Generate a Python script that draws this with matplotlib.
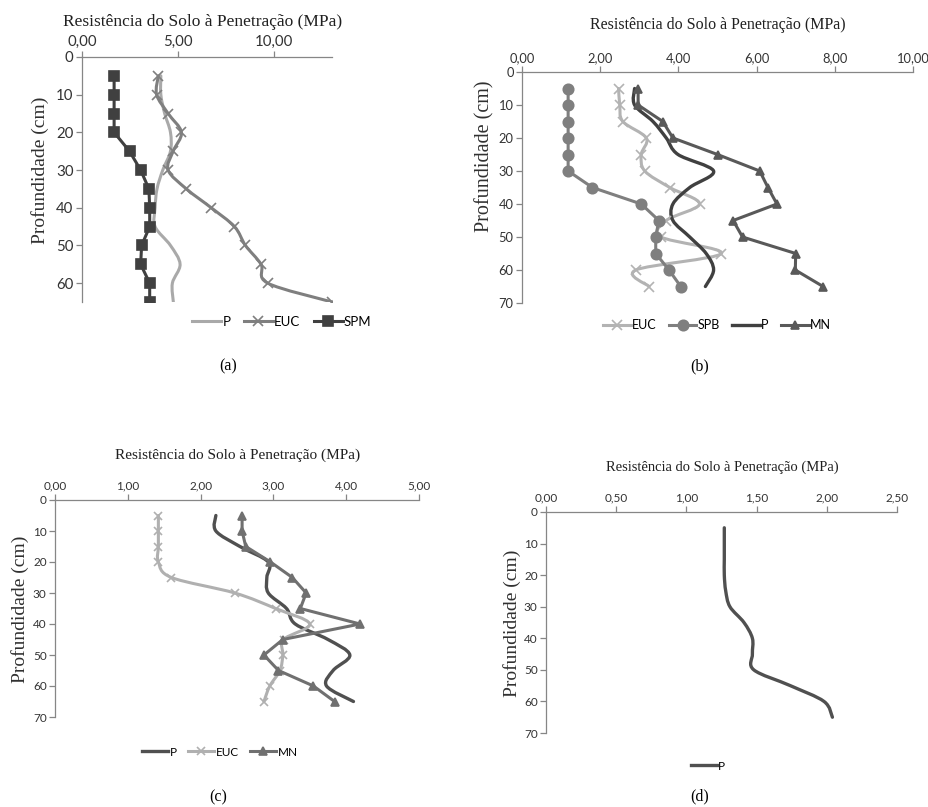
import numpy as np
import matplotlib
matplotlib.use('Agg')
from matplotlib import pyplot as plt
from matplotlib.path import Path
from matplotlib.patches import PathPatch
from matplotlib.lines import Line2D
from matplotlib.ticker import FuncFormatter

depth = [5, 10, 15, 20, 25, 30, 35, 40, 45, 50, 55, 60, 65]

# (a)
a_p = [4.1, 4.1, 4.3, 4.6, 4.6, 4.2, 3.9, 3.8, 3.8, 4.6, 5.1, 4.7, 4.75]
a_euc = [3.97, 3.88, 4.48, 5.17, 4.74, 4.48, 5.43, 6.72, 7.93, 8.5, 9.31, 9.66, 13.0]
a_spm = [1.67, 1.67, 1.67, 1.67, 2.47, 3.05, 3.48, 3.52, 3.52, 3.10, 3.05, 3.52, 3.52]

# (b)
b_euc = [2.47, 2.50, 2.58, 3.18, 3.05, 3.14, 3.78, 4.54, 3.69, 3.56, 5.10, 2.91, 3.25]
b_spb = [1.18, 1.18, 1.18, 1.18, 1.18, 1.18, 1.80, 3.05, 3.50, 3.42, 3.42, 3.76, 4.06]
b_p = [2.88, 2.88, 3.35, 3.69, 3.99, 4.90, 4.29, 3.86, 3.86, 4.29, 4.71, 4.90, 4.69]
b_mn = [2.97, 2.97, 3.60, 3.86, 5.00, 6.08, 6.29, 6.52, 5.40, 5.64, 7.00, 6.99, 7.70]

# (c)
c_p = [2.21, 2.21, 2.54, 2.93, 2.91, 2.93, 3.18, 3.30, 3.75, 4.05, 3.82, 3.73, 4.10]
c_euc = [1.42, 1.42, 1.42, 1.42, 1.60, 2.47, 3.03, 3.50, 3.14, 3.13, 3.09, 2.95, 2.87]
c_mn = [2.57, 2.57, 2.62, 2.96, 3.26, 3.45, 3.37, 4.19, 3.13, 2.87, 3.07, 3.55, 3.84]

# (d)
d_p = [1.27, 1.27, 1.27, 1.27, 1.28, 1.31, 1.41, 1.47, 1.47, 1.48, 1.74, 1.98, 2.04]

W, H = 929, 807
SERIF = 'Liberation Serif'
SANS = 'Lato'


def smooth_path(x, y):
    # bezier segments (excel-style smoothed line)
    pts = np.column_stack([x, y]).astype(float)
    n = len(pts)
    verts = [pts[0]]
    codes = [Path.MOVETO]
    for i in range(n - 1):
        p0 = pts[max(i - 1, 0)]
        p1 = pts[i]
        p2 = pts[i + 1]
        p3 = pts[min(i + 2, n - 1)]
        verts += [p1 + (p2 - p0) / 6, p2 - (p3 - p1) / 6, p2]
        codes += [Path.CURVE4] * 3
    return Path(verts, codes)


def add_series(ax, x, y, color, lw, label, marker=None, ms=6, smooth=False, mew=1.2):
    if smooth:
        ax.add_patch(PathPatch(smooth_path(x, y), fill=False, edgecolor=color,
                               lw=lw, capstyle='round', joinstyle='round'))
        if marker:
            ax.plot(x, y, linestyle='none', marker=marker, ms=ms, color=color, mew=mew)
    else:
        ax.plot(x, y, color=color, lw=lw, marker=marker, ms=ms, mew=mew)
    return Line2D([], [], color=color, lw=lw, marker=marker, ms=ms, mew=mew, label=label)


def make_axes(box, xmax, xstep, ymax, ytop, fs):
    l, r, t, b = box
    ax = plt.gcf().add_axes([l / W, 1 - b / H, (r - l) / W, (b - t) / H])
    ax.set_xlim(0, xmax)
    ax.set_ylim(ymax, 0)
    ax.xaxis.tick_top()
    ax.set_xticks(np.arange(0, xmax + 1e-9, xstep))
    ax.set_yticks(np.arange(0, ytop + 1, 10))
    ax.xaxis.set_major_formatter(FuncFormatter(lambda v, p: ('%.2f' % v).replace('.', ',')))
    for s in ['right', 'bottom']:
        ax.spines[s].set_visible(False)
    for s in ['left', 'top']:
        ax.spines[s].set_color('#868686')
        ax.spines[s].set_linewidth(0.9)
    ax.tick_params(axis='both', direction='out', length=4, width=0.9, color='#868686',
                   labelsize=fs, labelcolor='#333333', pad=2)
    for lab in ax.get_xticklabels() + ax.get_yticklabels():
        lab.set_family(SANS)
    ax.patch.set_alpha(0)
    return ax


def texts(title_xy, ylab_xy, cap_xy, cap, tfs, yfs):
    fig.text(title_xy[0] / W, 1 - title_xy[1] / H, 'Resistência do Solo à Penetração (MPa)',
             ha='center', va='center', family=SERIF, fontsize=tfs, color='#202020')
    fig.text(ylab_xy[0] / W, 1 - ylab_xy[1] / H, 'Profundidade (cm)', rotation=90,
             ha='center', va='center', family=SERIF, fontsize=yfs, color='#303030')
    fig.text(cap_xy[0] / W, 1 - cap_xy[1] / H, cap, ha='center', va='center',
             family=SERIF, fontsize=11.5, color='black')


def legend(ax, handles, xy, fs):
    ax.legend(handles=handles, loc='center', bbox_to_anchor=(xy[0] / W, 1 - xy[1] / H),
              bbox_transform=fig.transFigure, ncol=len(handles), frameon=False,
              handlelength=2.2, handletextpad=0.1, columnspacing=1.0,
              prop={'family': SANS, 'size': fs})


fig = plt.figure(figsize=(W / 100, H / 100), dpi=100)

# (a)
ax = make_axes((82, 332, 57, 302), 13.0, 5, 65, 60, 10.8)
h = [add_series(ax, a_p, depth, '#a9a9a9', 2.2, 'P', smooth=True),
     add_series(ax, a_euc, depth, '#7f7f7f', 2.2, 'EUC', marker='x', ms=7, smooth=True),
     add_series(ax, a_spm, depth, '#404040', 2.2, 'SPM', marker='s', ms=7)]
legend(ax, h, (282, 322), 9.5)
texts((203, 22), (40, 170), (228, 366), '(a)', 12.5, 14)

# (b)
ax = make_axes((522, 913, 72, 303), 10.0, 2, 70, 70, 9.3)
h = [add_series(ax, b_euc, depth, '#b3b3b3', 2.2, 'EUC', marker='x', ms=7, smooth=True),
     add_series(ax, b_spb, depth, '#7f7f7f', 2.2, 'SPB', marker='o', ms=7.5),
     add_series(ax, b_p, depth, '#404040', 2.4, 'P', smooth=True),
     add_series(ax, b_mn, depth, '#595959', 2.2, 'MN', marker='^', ms=6)]
legend(ax, h, (717, 325), 9)
texts((718, 25), (485, 156), (700, 366), '(b)', 11.5, 14.5)

# (c)
ax = make_axes((55, 419, 500, 717), 5.0, 1, 70, 70, 8.5)
h = [add_series(ax, c_p, depth, '#505050', 2.4, 'P', smooth=True),
     add_series(ax, c_euc, depth, '#b0b0b0', 2.2, 'EUC', marker='x', ms=6, smooth=True),
     add_series(ax, c_mn, depth, '#707070', 2.2, 'MN', marker='^', ms=6)]
legend(ax, h, (220, 752), 8.5)
texts((238, 455), (20, 609), (218, 797), '(c)', 11, 14)

# (d)
ax = make_axes((546, 897, 512, 733), 2.5, 0.5, 70, 70, 8.5)
h = [add_series(ax, d_p, depth, '#505050', 2.4, 'P', smooth=True)]
legend(ax, h, (708, 766), 8.5)
texts((722, 467), (512, 623), (700, 796), '(d)', 10.5, 14)

fig.savefig('out.png', dpi=100)
